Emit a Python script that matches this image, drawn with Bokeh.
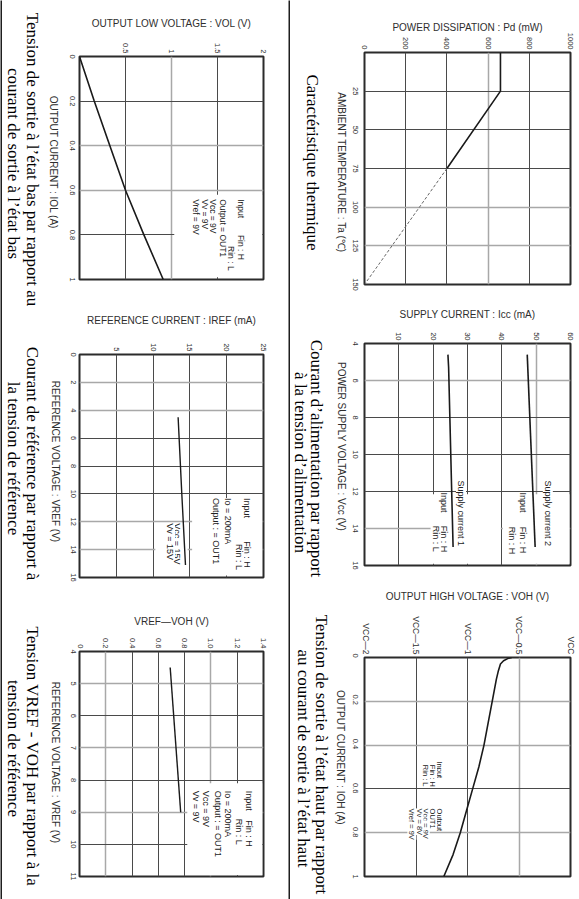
import math
from bokeh.plotting import figure
from bokeh.models import (Range1d, FixedTicker, Label, LabelSet, ColumnDataSource,
                          Grid, BoxAnnotation)
from bokeh.layouts import row, column
from bokeh.embed import file_html
from bokeh.resources import INLINE
from bokeh.core.properties import value

# ---------------- data ----------------
# Thermal characteristic (Pd vs Ta)
ta_derating = [0, 25, 75]
pd_derating = [660, 660, 400]
ta_extension = [75, 150]
pd_extension = [400, 0]
pd_ticks = [0, 200, 400, 600, 800, 1000]
pd_tick_labels = ["0", "200", "400", "600", "800", "1000"]
ta_ticks = [0, 25, 50, 75, 100, 125, 150]
ta_tick_labels = ["", "25", "50", "75", "100", "125", "150"]

# Supply current vs supply voltage
vcc_current1 = [4.6, 5.3, 15.0]
icc_current1 = [24.3, 24.5, 25.8]
vcc_current2 = [4.6, 15.0]
icc_current2 = [47.4, 49.7]
icc_ticks = [0, 10, 20, 30, 40, 50, 60]
icc_tick_labels = ["", "10", "20", "30", "40", "50", "60"]
vcc_ticks = [4, 6, 8, 10, 12, 14, 16]
vcc_tick_labels = ["4", "6", "8", "10", "12", "14", "16"]

# Output high voltage vs output current
ioh = [0, 0.005, 0.015, 0.03, 0.06, 0.1, 0.2, 0.3, 0.4, 0.5, 0.6, 0.7, 0.8, 0.9, 1.0]
voh = [-0.57, -0.61, -0.65, -0.68, -0.70, -0.72, -0.76, -0.80, -0.84, -0.89,
       -0.95, -1.01, -1.07, -1.14, -1.23]
voh_ticks = [-2, -1.5, -1, -0.5, 0]
voh_tick_labels = ["VCC\u20142", "VCC\u20141.5", "VCC\u20141", "VCC\u20140.5", "VCC"]
ioh_ticks = [0, 0.2, 0.4, 0.6, 0.8, 1]
ioh_tick_labels = ["0", "0.2", "0.4", "0.6", "0.8", "1"]

# Output low voltage vs output current
iol = [0, 0.2, 0.4, 0.6, 0.8, 1.0]
vol = [0.0, 0.16, 0.33, 0.50, 0.70, 0.91]
vol_ticks = [0, 0.5, 1, 1.5, 2]
vol_tick_labels = ["", "0.5", "1", "1.5", "2"]
iol_ticks = [0, 0.2, 0.4, 0.6, 0.8, 1]
iol_tick_labels = ["0", "0.2", "0.4", "0.6", "0.8", "1"]

# Reference current vs reference voltage
vref_a = [4.5, 10.0, 15.1]
iref = [13.4, 13.9, 14.4]
iref_ticks = [0, 5, 10, 15, 20, 25]
iref_tick_labels = ["", "5", "10", "15", "20", "25"]
vref_a_ticks = [0, 2, 4, 6, 8, 10, 12, 14, 16]
vref_a_tick_labels = ["0", "2", "4", "6", "8", "10", "12", "14", "16"]

# VREF - VOH vs reference voltage
vref_b = [4.5, 9.0]
vdrop = [0.69, 0.77]
vdrop_ticks = [0, 0.2, 0.4, 0.6, 0.8, 1.0, 1.2, 1.4]
vdrop_tick_labels = ["0", "0.2", "0.4", "0.6", "0.8", "1.0", "1.2", "1.4"]
vref_b_ticks = [4, 5, 6, 7, 8, 9, 10, 11]
vref_b_tick_labels = ["4", "5", "6", "7", "8", "9", "10", "11"]

# ---------------- style / layout ----------------
ROT = -math.pi / 2
SANS = "Liberation Sans"
SERIF = "Liberation Serif"
DARK = "#4a4a4a"
LIGHT = "#a8a8a8"
INK = "#2e2e2e"
TOTAL_H = 899


def ydata(c, ref_y):
    return c["ytop"] + (ref_y - c["ft"]) / c["fh"] * (c["ybot"] - c["ytop"])


def geom(c):
    c["fl"] = c["ox"] + c["l"]
    c["ft"] = c["oy"] + c["t"]
    c["fh"] = c["h"] - c["t"] - c["b"]


def build(c):
    x0, x1 = c["xr"]
    p = figure(width=c["w"], height=c["h"], x_range=Range1d(x0, x1),
               y_range=Range1d(c["ybot"], c["ytop"]),
               x_axis_location="above", y_axis_type=None, title=None,
               toolbar_location=None, output_backend="svg",
               min_border_left=c["l"], min_border_right=c["r"],
               min_border_top=c["t"], min_border_bottom=c["b"],
               background_fill_color="white", border_fill_color="white",
               outline_line_color="#2b2b2b", outline_line_width=2)
    p.center = [r for r in p.center if not isinstance(r, Grid)]
    ax = p.xaxis[0]
    ax.ticker = FixedTicker(ticks=c["xt"])
    ax.major_label_overrides = dict(zip(c["xt"], c["xl"]))
    ax.major_label_orientation = ROT
    ax.major_tick_in = 0
    ax.major_tick_out = 0
    ax.minor_tick_in = 0
    ax.minor_tick_out = 0
    ax.axis_line_color = None
    ax.major_label_standoff = 3
    ax.major_label_text_font = SANS
    ax.major_label_text_font_size = c.get("xfs", "7.5px")
    ax.major_label_text_color = INK
    ax.axis_label = c["xtitle"]
    ax.axis_label_standoff = c["xts"]
    ax.axis_label_text_font = SANS
    ax.axis_label_text_font_size = "10px"
    ax.axis_label_text_font_style = "normal"
    ax.axis_label_text_color = INK

    for dim, dark, light in ((0, c["gxd"], c["gxl"]), (1, c["gyd"], c["gyl"])):
        p.add_layout(Grid(dimension=dim, ticker=FixedTicker(ticks=dark),
                          grid_line_color=DARK, grid_line_width=1))
        p.add_layout(Grid(dimension=dim, ticker=FixedTicker(ticks=light),
                          grid_line_color=LIGHT, grid_line_width=1.5))
    for (ml, mr, mt, mb) in c.get("masks", []):
        p.add_layout(BoxAnnotation(left=ml, right=mr, top=mt, bottom=mb,
                                   fill_color="white", fill_alpha=1.0,
                                   line_color=None, level="underlay"))
    for (txt, nx, ny) in c.get("notes", []):
        p.add_layout(Label(x=nx, y=ny, text=txt, angle=ROT, text_align="left",
                           text_baseline="middle", text_font=SANS,
                           text_font_size=c["nfs"], text_color="#222222",
                           background_fill_color="white", level="underlay"))
    return p


def side_panel(ox, pw, charts):
    pn = figure(width=pw, height=TOTAL_H, x_range=Range1d(ox, ox + pw),
                y_range=Range1d(TOTAL_H, 0), x_axis_type=None, y_axis_type=None,
                title=None, toolbar_location=None, output_backend="svg",
                min_border=0, outline_line_color=None,
                background_fill_color="white", border_fill_color="white")
    pn.extra_y_ranges = {c["name"]: Range1d(ydata(c, TOTAL_H), ydata(c, 0))
                         for c in charts}
    for c in charts:
        src = ColumnDataSource(dict(x=[c["fl"] - c.get("ys", 4)] * len(c["yt"]),
                                    y=c["yt"], text=c["yl"]))
        pn.add_layout(LabelSet(x="x", y="y", text="text", source=src,
                               y_range_name=c["name"], angle=ROT,
                               text_align="center", text_baseline="top",
                               text_font=value(SANS), text_font_size="7.5px",
                               text_color=INK))
        pn.add_layout(Label(x=c["ytx"], y=c["yty"], text=c["ytitle"], angle=ROT,
                            text_align="center", text_baseline="middle",
                            text_font=SANS, text_font_size="10px", text_color=INK))
        for (txt, rx, ry) in c["caption"]:
            pn.add_layout(Label(x=rx, y=ry, text=txt, angle=ROT,
                                text_align="center", text_baseline="middle",
                                text_font=SERIF, text_font_size="17px",
                                text_color="black"))
    return pn


def strip(height):
    return figure(width=2, height=height, x_range=Range1d(0, 1), y_range=Range1d(0, 1),
                  x_axis_type=None, y_axis_type=None, title=None,
                  toolbar_location=None, output_backend="svg", min_border=0,
                  background_fill_color="#1e1e1e", border_fill_color="#1e1e1e",
                  outline_line_color=None)


c1 = dict(name="c1", ox=360, oy=0, w=219, h=293, l=4, r=9, t=52, b=9, ys=7,
          xr=(0, 1000), ytop=0, ybot=150,
          xt=pd_ticks, xl=pd_tick_labels, yt=ta_ticks, yl=ta_tick_labels,
          xtitle="POWER DISSIPATION : Pd (mW)", xts=-3,
          ytitle="AMBIENT TEMPERATURE : Ta (\u2103)", ytx=341, yty=172,
          gxd=[200, 400, 800], gxl=[600], gyd=[25, 50, 75], gyl=[100, 125],
          caption=[("Caract\u00e9ristique thermique", 312, 162)])

c2 = dict(name="c2", ox=360, oy=293, w=219, h=295, l=1, r=9, t=50, b=23,
          xr=(0, 60), ytop=4, ybot=16,
          xt=icc_ticks, xl=icc_tick_labels, yt=vcc_ticks, yl=vcc_tick_labels,
          xtitle="SUPPLY CURRENT : Icc (mA)", xts=9,
          ytitle="POWER SUPPLY VOLTAGE : Vcc (V)", ytx=341, yty=446,
          gxd=[10, 20, 30, 40], gxl=[50], gyd=[8, 10, 12], gyl=[6, 14],
          masks=[(19.6, 39.7, 12.15, 15.9), (40.3, 59.7, 12.15, 15.9)],
          nfs="9px",
          notes=[("Supply current 2", 53.4, 11.4), ("Input", 46.2, 12.05),
                 ("Fin : H", 46.2, 13.9), ("Rin : H", 43.1, 13.9),
                 ("Supply current 1", 28.1, 11.4), ("Input", 23.2, 12.05),
                 ("Fin : H", 23.2, 13.85), ("Rin : L", 20.7, 13.85)],
          caption=[("Courant d\u2019alimentation par rapport", 316, 458),
                   ("\u00e0 la tension d\u2019alimentation", 300, 462)])

c3 = dict(name="c3", ox=360, oy=588, w=219, h=311, l=1, r=9, t=67, b=23,
          xr=(-2, 0), ytop=0, ybot=1,
          xt=voh_ticks, xl=voh_tick_labels, yt=ioh_ticks, yl=ioh_tick_labels,
          xfs="8.5px",
          xtitle="OUTPUT HIGH VOLTAGE : VOH (V)", xts=11,
          ytitle="OUTPUT CURRENT : IOH (A)", ytx=340, yty=757,
          gxd=[-1.5, -1], gxl=[-0.5], gyd=[0.6], gyl=[0.2, 0.4, 0.8],
          nfs="7.5px",
          notes=[("Input", -1.27, 0.475), ("Fin : H", -1.34, 0.49),
                 ("Rin : L", -1.41, 0.49), ("Output", -1.27, 0.69),
                 ("OUT1", -1.34, 0.69), ("Vcc = 9V", -1.41, 0.69),
                 ("Vv = 8V", -1.47, 0.69), ("Vref = 9V", -1.54, 0.69)],
          caption=[("Tension de sortie \u00e0 l\u2019\u00e9tat haut par rapport", 321, 754),
                   ("au courant de sortie \u00e0 l\u2019\u00e9tat haut", 303, 758)])

c4 = dict(name="c4", ox=77, oy=0, w=211, h=293, l=1, r=25, t=56, b=14,
          xr=(0, 2), ytop=0, ybot=1,
          xt=vol_ticks, xl=vol_tick_labels, yt=iol_ticks, yl=iol_tick_labels,
          xtitle="OUTPUT LOW VOLTAGE : VOL (V)", xts=11,
          ytitle="OUTPUT CURRENT : IOL (A)", ytx=53, yty=162,
          gxd=[0.5, 1.5], gxl=[1.0], gyd=[0.2, 0.8], gyl=[0.4, 0.6],
          masks=[(1.03, 1.985, 0.62, 0.99)],
          nfs="8.5px",
          notes=[("Input", 1.75, 0.64), ("Fin : H", 1.75, 0.80),
                 ("Rin : L", 1.65, 0.85), ("Output = OUT1", 1.56, 0.64),
                 ("Vcc = 9V", 1.45, 0.64), ("Vv = 9V", 1.36, 0.64),
                 ("Vref = 9V", 1.27, 0.64)],
          caption=[("Tension de sortie \u00e0 l\u2019\u00e9tat bas par rapport au", 32, 159),
                   ("courant de sortie \u00e0 l\u2019\u00e9tat bas", 13, 163)])

c5 = dict(name="c5", ox=77, oy=293, w=211, h=295, l=2, r=25, t=61, b=11,
          xr=(0, 25), ytop=0, ybot=16,
          xt=iref_ticks, xl=iref_tick_labels, yt=vref_a_ticks, yl=vref_a_tick_labels,
          xtitle="REFERENCE CURRENT : IREF (mA)", xts=14,
          ytitle="REFERENCE VOLTAGE : VREF (V)", ytx=55, yty=461,
          gxd=[5, 10, 15, 20], gxl=[], gyd=[6, 8, 10], gyl=[2, 4, 12, 14],
          masks=[(15.3, 24.8, 10.3, 15.85), (10.3, 14.7, 12.3, 15.85)],
          nfs="9px",
          notes=[("Input", 22.8, 10.3), ("Fin : H", 22.8, 13.4),
                 ("Rin : L", 21.7, 13.6), ("Io = 200mA", 20.2, 10.3),
                 ("Output : = OUT1", 18.6, 10.3), ("Vcc = 15V", 13.3, 12.1),
                 ("Vv = 15V", 12.3, 12.1)],
          caption=[("Courant de r\u00e9f\u00e9rence par rapport \u00e0", 32, 463),
                   ("la tension de r\u00e9f\u00e9rence", 13, 458)])

c6 = dict(name="c6", ox=77, oy=588, w=211, h=311, l=2, r=23, t=63, b=23,
          xr=(0, 1.4), ytop=4, ybot=11,
          xt=vdrop_ticks, xl=vdrop_tick_labels, yt=vref_b_ticks, yl=vref_b_tick_labels,
          xtitle="VREF\u2014VOH (V)", xts=8,
          ytitle="REFERENCE VOLTAGE : VREF (V)", ytx=55, yty=762,
          gxd=[0.4, 0.6, 0.8, 1.2], gxl=[0.2, 1.0], gyd=[6, 8, 10], gyl=[5, 7, 9],
          masks=[(0.82, 1.39, 8.1, 10.95)],
          nfs="9px",
          notes=[("Input", 1.29, 8.33), ("Fin : H", 1.29, 9.25),
                 ("Rin : L", 1.21, 9.2), ("Io = 200mA", 1.13, 8.33),
                 ("Output : = OUT1", 1.05, 8.33), ("Vcc = 9V", 0.96, 8.33),
                 ("Vv = 9V", 0.89, 8.33)],
          caption=[("Tension VREF - VOH par rapport \u00e0 la", 32, 756),
                   ("tension de r\u00e9f\u00e9rence", 13, 748)])

for c in (c1, c2, c3, c4, c5, c6):
    geom(c)

p1 = build(c1)
p1.line(pd_derating, ta_derating, line_width=1.6, line_color="#1a1a1a")
p1.line(pd_extension, ta_extension, line_width=1, line_color="#666666", line_dash="3 2")

p2 = build(c2)
p2.line(icc_current1, vcc_current1, line_width=1.6, line_color="#1a1a1a")
p2.line(icc_current2, vcc_current2, line_width=1.6, line_color="#1a1a1a")

p3 = build(c3)
p3.line(voh, ioh, line_width=1.6, line_color="#1a1a1a")

p4 = build(c4)
p4.line(vol, iol, line_width=1.6, line_color="#1a1a1a")

p5 = build(c5)
p5.line(iref, vref_a, line_width=1.4, line_color="#1a1a1a")

p6 = build(c6)
p6.line(vdrop, vref_b, line_width=1.4, line_color="#1a1a1a")

left_panel = side_panel(2, 75, [c4, c5, c6])
right_panel = side_panel(290, 70, [c1, c2, c3])

root = row(strip(TOTAL_H), left_panel, column(p4, p5, p6),
           strip(TOTAL_H), right_panel, column(p1, p2, p3))

with open("out.html", "w") as f:
    f.write(file_html(root, INLINE))
